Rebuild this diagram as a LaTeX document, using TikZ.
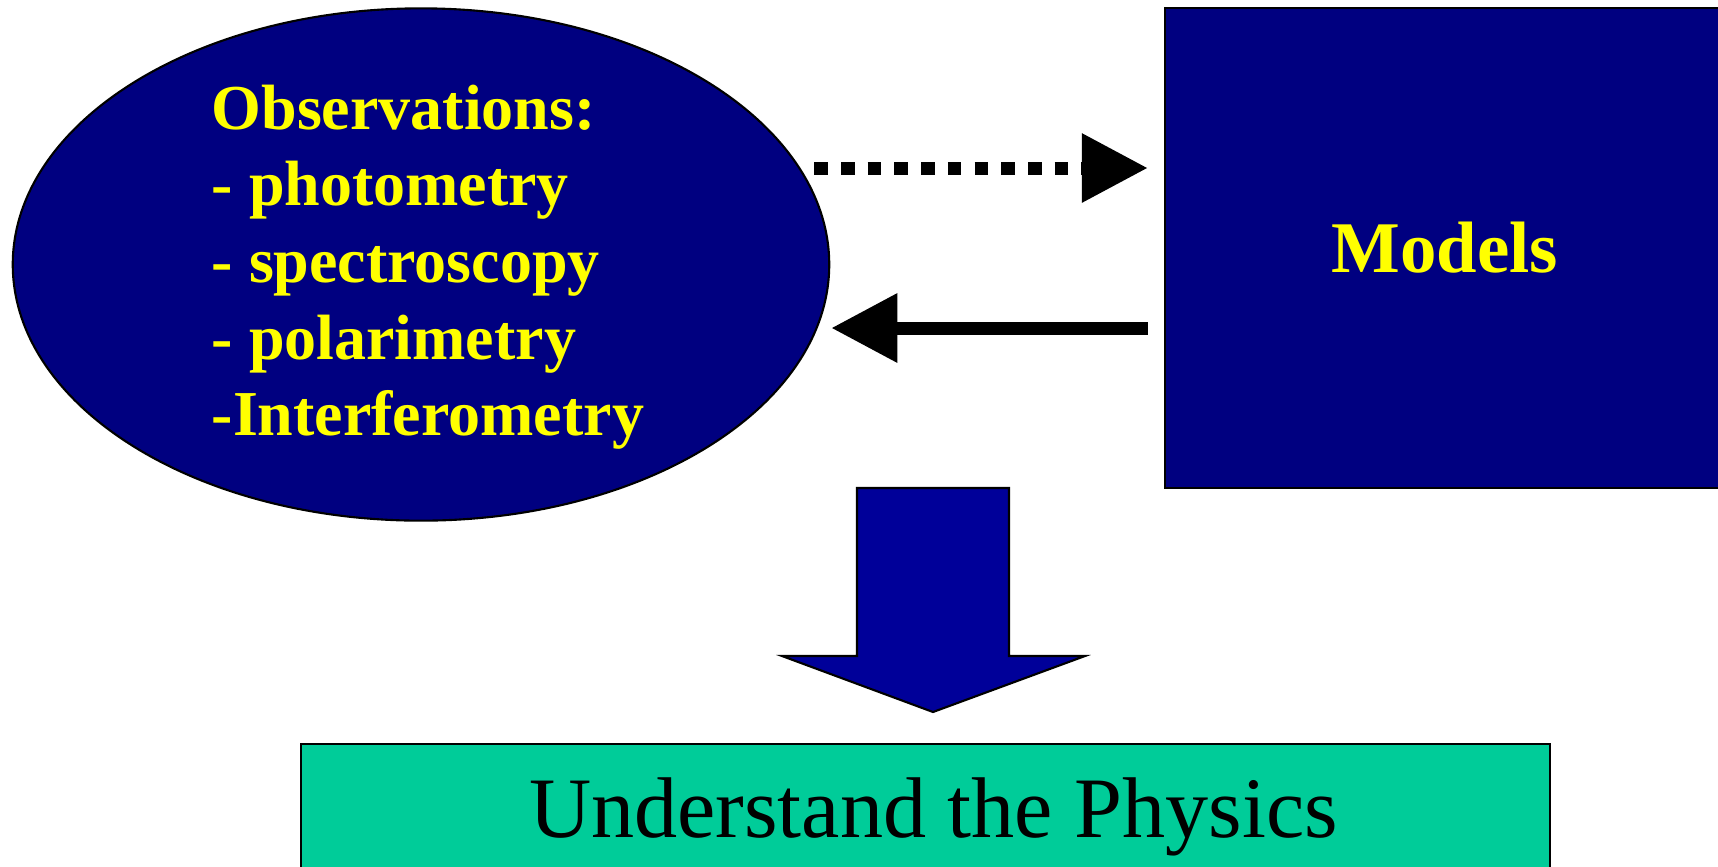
\documentclass[tikz,border=0pt]{standalone}
\usepackage{fontspec}
\setmainfont{Liberation Serif}
\usetikzlibrary{shapes.geometric, arrows.meta, calc}
\definecolor{DeepNavy}{RGB}{0, 0, 128}
\definecolor{ArrowBlue}{RGB}{0, 0, 153}
\definecolor{PhysGreen}{RGB}{0, 204, 153}
\definecolor{TextYellow}{RGB}{255, 255, 0}

\begin{document}
\begin{tikzpicture}[x=0.01cm, y=-0.01cm,
    outline/.style={draw=black, line width=0.6pt},
    link/.style={line width=0.13cm, line cap=butt, -{Triangle[length=0.66cm, width=0.66cm]}}]
    \useasboundingbox (0,0) rectangle (1718,866);

    % Observations
    \node[ellipse, outline, fill=DeepNavy, minimum width=8.16cm, minimum height=5.12cm, inner sep=0pt] (obs) at (421,264.5) {};
    \node[anchor=north west, inner sep=0pt, align=left, text=TextYellow, font=\fontsize{18.2}{21.8}\selectfont\bfseries] (obslist) at (211,84) {Observations:\\- photometry\\- spectroscopy\\- polarimetry\\-Interferometry};

    % Models
    \node[rectangle, outline, fill=DeepNavy, minimum width=5.6cm, minimum height=4.8cm, text=TextYellow, font=\fontsize{20.7}{24}\selectfont\bfseries] (models) at (1445,248) {Models};

    % Understand the Physics
    \node[rectangle, outline, fill=PhysGreen, minimum width=12.49cm, minimum height=1.46cm, font=\fontsize{24.5}{29}\selectfont] (physics) at (925.5,817) {\hspace{0.16cm}Understand the Physics};

    % Arrows
    \draw[link, dash pattern=on 0.135cm off 0.132cm] ($(obs.east)+(-16,-96.5)$) -- ($(models.west)+(-16,-80)$);
    \draw[link] ($(models.west)+(-16,80)$) -- ($(obs.east)+(1,63.5)$);
    \filldraw[outline, fill=ArrowBlue] (857,488) -- (1009,488) -- (1009,656) -- (1085,656) -- (933,712) -- (782,656) -- (857,656) -- cycle;
  \end{tikzpicture}
\end{document}
